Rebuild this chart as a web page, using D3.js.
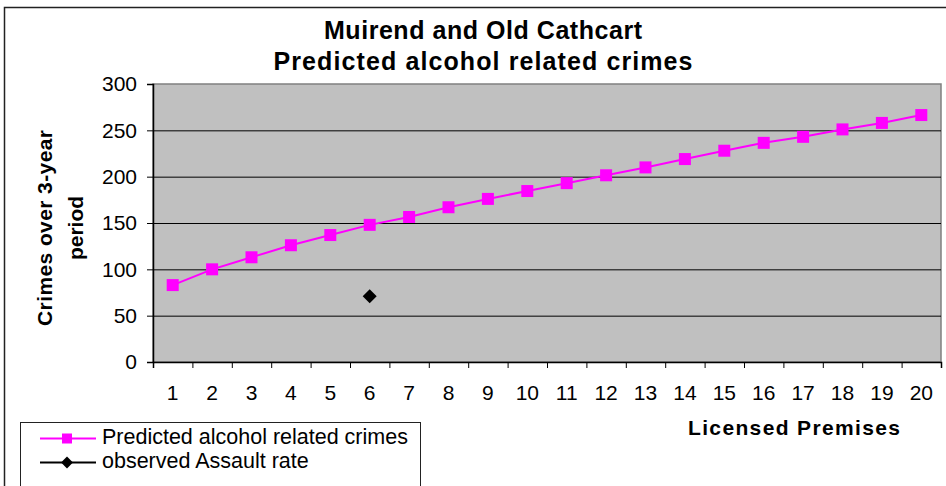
<!DOCTYPE html>
<html>
<head>
<meta charset="utf-8">
<script src="https://cdn.jsdelivr.net/npm/d3@7/dist/d3.min.js"></script>
<style>
  html, body { margin: 0; padding: 0; background: #fff; }
  svg { display: block; font-family: "Liberation Sans", Arial, sans-serif; }
</style>
</head>
<body>
<svg id="chart" width="946" height="486"></svg>
<script>
// ---- data ----
const titleLines = ["Muirend and Old Cathcart", "Predicted alcohol related crimes"];
const yTitleLines = ["Crimes over 3-year", "period"];
const xTitle = "Licensed Premises";
const categories = [1,2,3,4,5,6,7,8,9,10,11,12,13,14,15,16,17,18,19,20];
const predicted = [83, 100, 113, 126, 137, 148, 156.5, 167, 176, 184.5, 193, 201.5, 210, 219, 228, 236.5, 243, 251, 258, 266.5];
const observedCategories = [6];
const observed = [71];
const yTicks = [0, 50, 100, 150, 200, 250, 300];
const seriesNames = ["Predicted alcohol related crimes", "observed Assault rate"];

// ---- layout ----
const svg = d3.select("#chart");
const plot = {left: 153, right: 941, top: 84, bottom: 362};

const x = d3.scaleBand().domain(categories).range([plot.left, plot.right]).padding(0);
const xEdges = d3.scaleLinear().domain([0, categories.length]).range([plot.left, plot.right]);
const y = d3.scaleLinear().domain([0, 300]).range([plot.bottom, plot.top]);
const cx = d => x(d) + x.bandwidth() / 2;

// outer chart frame
svg.append("rect")
  .attr("x", 4.5).attr("y", 7.5).attr("width", 960).attr("height", 500)
  .attr("fill", "#fff").attr("stroke", "#222").attr("stroke-width", 1.5);

// plot area
svg.append("rect")
  .attr("x", plot.left).attr("y", plot.top)
  .attr("width", plot.right - plot.left).attr("height", plot.bottom - plot.top)
  .attr("fill", "#c0c0c0").attr("stroke", "#808080").attr("stroke-width", 1.5);

// gridlines
svg.append("g").selectAll("line").data(yTicks.filter(t => t > 0 && t < 300)).join("line")
  .attr("x1", plot.left).attr("x2", plot.right)
  .attr("y1", d => y(d) + 0.5).attr("y2", d => y(d) + 0.5)
  .attr("stroke", "#000").attr("stroke-width", 1);

// y axis
const yAxis = svg.append("g").attr("transform", `translate(${plot.left},0)`)
  .call(d3.axisLeft(y).tickValues(yTicks).tickSize(6).tickPadding(10));
yAxis.select(".domain").attr("stroke", "#000").attr("stroke-width", 1.5);
yAxis.selectAll(".tick line").attr("stroke", "#000");
yAxis.selectAll(".tick text").attr("font-size", 21).attr("fill", "#000")
  .attr("font-family", "Liberation Sans, Arial, sans-serif");

// x axis: ticks at category edges
const xAxisTicks = svg.append("g").attr("transform", `translate(0,${plot.bottom})`)
  .call(d3.axisBottom(xEdges).tickValues(d3.range(0, categories.length + 1)).tickSize(6).tickFormat(""));
xAxisTicks.select(".domain").attr("stroke", "#000").attr("stroke-width", 1.5);
xAxisTicks.selectAll(".tick line").attr("stroke", "#000");

// x axis: labels centred in categories
const xAxisLabels = svg.append("g").attr("transform", `translate(0,${plot.bottom})`)
  .call(d3.axisBottom(x).tickSize(0).tickPadding(23));
xAxisLabels.select(".domain").remove();
xAxisLabels.selectAll(".tick text").attr("font-size", 21).attr("fill", "#000")
  .attr("font-family", "Liberation Sans, Arial, sans-serif");

// predicted series
const line = d3.line().x((d, i) => cx(categories[i])).y(d => y(d));
svg.append("path").datum(predicted)
  .attr("d", line).attr("fill", "none").attr("stroke", "#ff00ff").attr("stroke-width", 2);
svg.append("g").selectAll("rect").data(predicted).join("rect")
  .attr("x", (d, i) => cx(categories[i]) - 6).attr("y", d => y(d) - 6)
  .attr("width", 12).attr("height", 12).attr("fill", "#ff00ff");

// observed series
const diamond = d3.symbol().type(d3.symbolDiamond2).size(125);
svg.append("g").selectAll("path").data(observed).join("path")
  .attr("d", diamond)
  .attr("transform", (d, i) => `translate(${cx(observedCategories[i])},${y(d)})`)
  .attr("fill", "#000");

// title
const titleG = svg.append("g").attr("font-weight", "bold").attr("font-size", 25).attr("text-anchor", "middle");
titleG.append("text").attr("x", 483).attr("y", 39).attr("textLength", 318).attr("lengthAdjust", "spacing").text(titleLines[0]);
titleG.append("text").attr("x", 483).attr("y", 70).attr("textLength", 419).attr("lengthAdjust", "spacing").text(titleLines[1]);

// y title
const yt = svg.append("g").attr("font-weight", "bold").attr("font-size", 21).attr("text-anchor", "middle");
yt.append("text").attr("transform", "translate(52,228) rotate(-90)").attr("textLength", 196).attr("lengthAdjust", "spacing").text(yTitleLines[0]);
yt.append("text").attr("transform", "translate(83,228) rotate(-90)").text(yTitleLines[1]);

// x title
svg.append("text").attr("x", 794).attr("y", 435).attr("text-anchor", "middle")
  .attr("font-weight", "bold").attr("font-size", 21)
  .attr("textLength", 212).attr("lengthAdjust", "spacing").text(xTitle);

// legend
const lg = svg.append("g");
lg.append("rect").attr("x", 20.5).attr("y", 422.5).attr("width", 400).attr("height", 80)
  .attr("fill", "#fff").attr("stroke", "#222").attr("stroke-width", 1);
const legendRows = [
  {name: seriesNames[0], color: "#ff00ff", y: 438.5, marker: "square"},
  {name: seriesNames[1], color: "#000", y: 462.5, marker: "diamond"}
];
legendRows.forEach(r => {
  lg.append("line").attr("x1", 40).attr("x2", 96).attr("y1", r.y).attr("y2", r.y)
    .attr("stroke", r.color).attr("stroke-width", 2);
  if (r.marker === "square") {
    lg.append("rect").attr("x", 67 - 5).attr("y", r.y - 5).attr("width", 10).attr("height", 10).attr("fill", r.color);
  } else {
    lg.append("path").attr("d", d3.symbol().type(d3.symbolDiamond2).size(90))
      .attr("transform", `translate(67,${r.y})`).attr("fill", r.color);
  }
  lg.append("text").attr("x", 102).attr("y", r.y + 5)
    .attr("font-size", 21.5).attr("fill", "#000").text(r.name);
});
</script>
</body>
</html>
